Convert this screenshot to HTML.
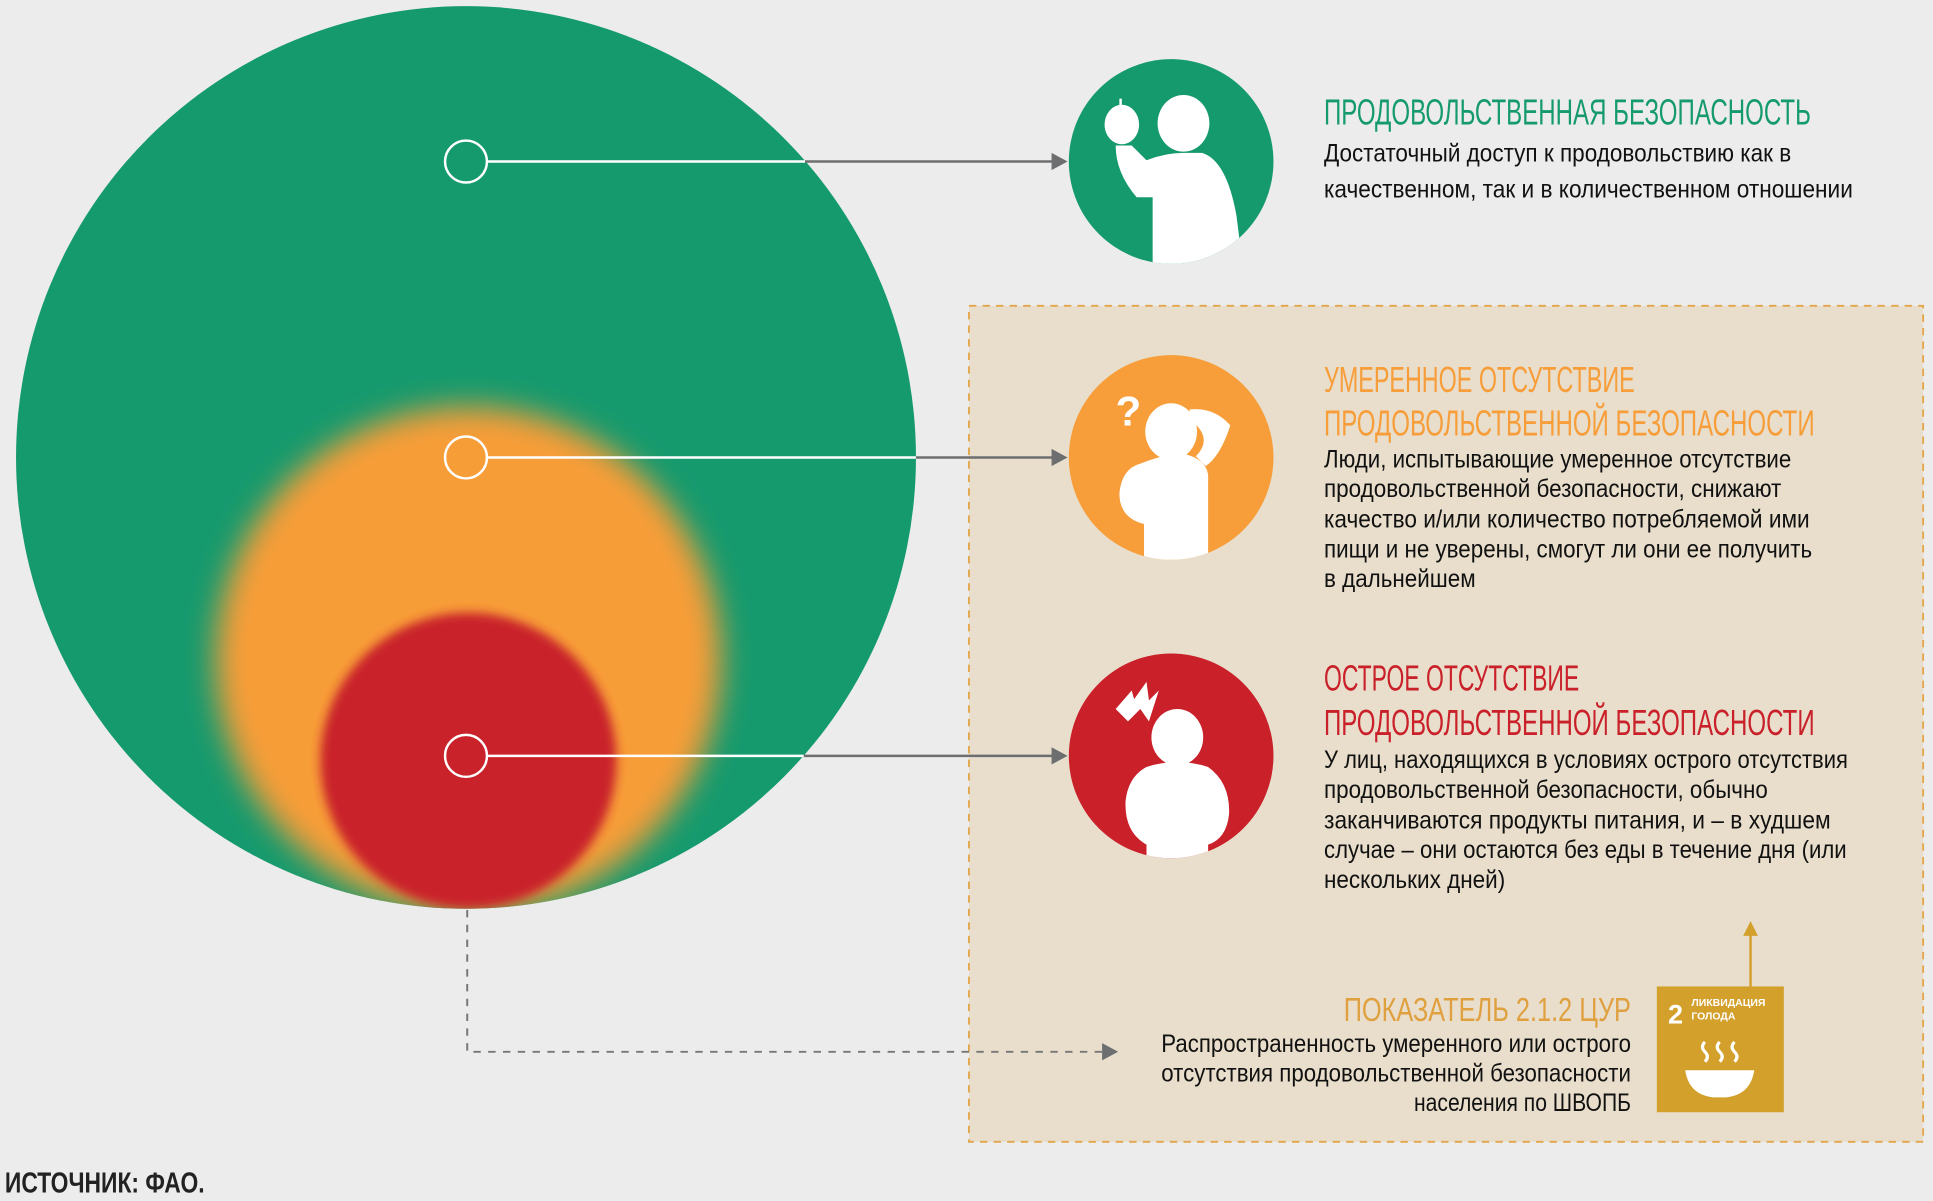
<!DOCTYPE html>
<html><head><meta charset="utf-8"><style>
html,body{margin:0;padding:0;background:#ececec;}
svg{display:block}
text{font-family:"Liberation Sans Narrow","Liberation Sans","DejaVu Sans Condensed",sans-serif;}
</style></head><body>
<svg width="1933" height="1201" viewBox="0 0 1568 974" preserveAspectRatio="none" xmlns="http://www.w3.org/2000/svg">
<defs>
<clipPath id="cg"><ellipse cx="378" cy="371" rx="365" ry="366"/></clipPath>
<filter id="b1" x="-30%" y="-30%" width="160%" height="160%"><feGaussianBlur stdDeviation="12"/></filter>
<filter id="b2" x="-30%" y="-30%" width="160%" height="160%"><feGaussianBlur stdDeviation="4"/></filter>
<clipPath id="ci1"><circle cx="950" cy="131" r="83"/></clipPath>
<clipPath id="ci2"><circle cx="950" cy="371" r="83"/></clipPath>
<clipPath id="ci3"><circle cx="950" cy="613" r="83"/></clipPath>
</defs>
<rect width="1568" height="974" fill="#ececec"/>
<!-- beige box -->
<rect x="786" y="248" width="774" height="678" fill="#e8decb" stroke="#e3a54a" stroke-width="1.5" stroke-dasharray="6,5"/>
<!-- big circles -->
<ellipse cx="378" cy="371" rx="365" ry="366" fill="#159a6e"/>
<g clip-path="url(#cg)">
<circle cx="380" cy="535" r="205" fill="#f79d39" filter="url(#b1)"/>
<circle cx="380" cy="617" r="120" fill="#c9202a" filter="url(#b2)"/>
</g>
<!-- connectors -->
<g stroke-width="2" fill="none">
<line x1="395" y1="131" x2="653" y2="131" stroke="#fff"/>
<line x1="653" y1="131" x2="856" y2="131" stroke="#6d6e70"/>
<line x1="395" y1="371" x2="743" y2="371" stroke="#fff"/>
<line x1="743" y1="371" x2="856" y2="371" stroke="#6d6e70"/>
<line x1="395" y1="613" x2="652" y2="613" stroke="#fff"/>
<line x1="652" y1="613" x2="856" y2="613" stroke="#6d6e70"/>
<circle cx="378" cy="131" r="17" stroke="#fff"/>
<circle cx="378" cy="371" r="17" stroke="#fff"/>
<circle cx="378" cy="613" r="17" stroke="#fff"/>
<path d="M379 738 V853 H897" stroke="#777" stroke-width="1.6" stroke-dasharray="6,6"/>
</g>
<g fill="#6d6e70">
<polygon points="853,124 866,131 853,138"/>
<polygon points="853,364 866,371 853,378"/>
<polygon points="853,606 866,613 853,620"/>
<polygon points="894,846 907,853 894,860"/>
</g>
<!-- icon circles -->
<circle cx="950" cy="131" r="83" fill="#159a6e"/>
<g clip-path="url(#ci1)" fill="#fff">
<ellipse cx="960" cy="100" rx="21" ry="23"/>
<path d="M930 130 Q945 124 960 124 L975 124 Q995 130 1003 175 L1008 215 L935 215 L935 160 L922 160 Q905 140 905 118 L918 118 Z"/>
<ellipse cx="910" cy="101" rx="14" ry="16"/>
<rect x="908" y="80" width="2" height="8"/>
</g>
<circle cx="950" cy="371" r="83" fill="#f79d39"/>
<g clip-path="url(#ci2)" fill="#fff">
<ellipse cx="950" cy="350" rx="21" ry="23"/>
<path d="M925 376 Q945 368 960 368 Q978 372 980 385 L980 455 L928 455 L928 425 Q908 420 908 400 Q910 380 925 376 Z"/>
<path d="M965 332 Q985 330 998 345 Q990 370 978 378 L970 370 Q985 355 965 340 Z"/>
<text x="905" y="345" font-size="34" fill="#fff" font-weight="bold">?</text>
</g>
<circle cx="950" cy="613" r="83" fill="#c9202a"/>
<g clip-path="url(#ci3)" fill="#fff">
<ellipse cx="955" cy="598" rx="21" ry="23"/>
<path d="M930 622 Q955 614 980 622 Q998 635 997 660 Q995 680 980 685 L980 700 L930 700 L930 685 Q912 675 913 650 Q915 630 930 622 Z"/>
<polygon points="905,575 918,560 920,567 930,553 932,568 940,560 932,585 925,575 915,585"/>
</g>
<!-- texts -->
<text x="1074" y="101" font-size="29" fill="#159a6e" textLength="395" lengthAdjust="spacingAndGlyphs">ПРОДОВОЛЬСТВЕННАЯ БЕЗОПАСНОСТЬ</text>
<g font-size="20.5" fill="#111">
<text x="1074" y="131" textLength="379" lengthAdjust="spacingAndGlyphs">Достаточный доступ к продовольствию как в</text>
<text x="1074" y="160" textLength="429" lengthAdjust="spacingAndGlyphs">качественном, так и в количественном отношении</text>
</g>
<text x="1074" y="318" font-size="29" fill="#f79d39" textLength="252" lengthAdjust="spacingAndGlyphs">УМЕРЕННОЕ ОТСУТСТВИЕ</text>
<text x="1074" y="353" font-size="29" fill="#f79d39" textLength="398" lengthAdjust="spacingAndGlyphs">ПРОДОВОЛЬСТВЕННОЙ БЕЗОПАСНОСТИ</text>
<g font-size="20.5" fill="#111">
<text x="1074" y="379" textLength="379" lengthAdjust="spacingAndGlyphs">Люди, испытывающие умеренное отсутствие</text>
<text x="1074" y="403" textLength="371" lengthAdjust="spacingAndGlyphs">продовольственной безопасности, снижают</text>
<text x="1074" y="428" textLength="394" lengthAdjust="spacingAndGlyphs">качество и/или количество потребляемой ими</text>
<text x="1074" y="452" textLength="396" lengthAdjust="spacingAndGlyphs">пищи и не уверены, смогут ли они ее получить</text>
<text x="1074" y="476" textLength="123" lengthAdjust="spacingAndGlyphs">в дальнейшем</text>
</g>
<text x="1074" y="560" font-size="29" fill="#c9202a" textLength="207" lengthAdjust="spacingAndGlyphs">ОСТРОЕ ОТСУТСТВИЕ</text>
<text x="1074" y="596" font-size="29" fill="#c9202a" textLength="398" lengthAdjust="spacingAndGlyphs">ПРОДОВОЛЬСТВЕННОЙ БЕЗОПАСНОСТИ</text>
<g font-size="20.5" fill="#111">
<text x="1074" y="623" textLength="425" lengthAdjust="spacingAndGlyphs">У лиц, находящихся в условиях острого отсутствия</text>
<text x="1074" y="647" textLength="360" lengthAdjust="spacingAndGlyphs">продовольственной безопасности, обычно</text>
<text x="1074" y="672" textLength="411" lengthAdjust="spacingAndGlyphs">заканчиваются продукты питания, и – в худшем</text>
<text x="1074" y="696" textLength="424" lengthAdjust="spacingAndGlyphs">случае – они остаются без еды в течение дня (или</text>
<text x="1074" y="720" textLength="147" lengthAdjust="spacingAndGlyphs">нескольких дней)</text>
</g>
<text x="1090" y="828" font-size="27" fill="#e0a040" textLength="233" lengthAdjust="spacingAndGlyphs">ПОКАЗАТЕЛЬ 2.1.2 ЦУР</text>
<g font-size="20.5" fill="#111">
<text x="942" y="853" textLength="381" lengthAdjust="spacingAndGlyphs">Распространенность умеренного или острого</text>
<text x="942" y="877" textLength="381" lengthAdjust="spacingAndGlyphs">отсутствия продовольственной безопасности</text>
<text x="1147" y="901" textLength="176" lengthAdjust="spacingAndGlyphs">населения по ШВОПБ</text>
</g>
<!-- SDG icon -->
<line x1="1420" y1="800" x2="1420" y2="756" stroke="#d3a02c" stroke-width="2"/>
<polygon points="1414,759 1420,747 1426,759" fill="#d3a02c"/>
<rect x="1344" y="800" width="103" height="102" fill="#d3a02c"/>
<text x="1353" y="830" font-size="22" font-weight="bold" fill="#fff">2</text>
<text x="1372" y="816" font-size="8.5" font-weight="bold" fill="#fff">ЛИКВИДАЦИЯ</text>
<text x="1372" y="827" font-size="8.5" font-weight="bold" fill="#fff">ГОЛОДА</text>
<path d="M1367 868 H1423 Q1420 888 1400 890 H1390 Q1370 888 1367 868 Z" fill="#fff"/>
<g stroke="#fff" stroke-width="2.5" fill="none">
<path d="M1383 845 q-4 4 0 8 q4 4 0 8"/>
<path d="M1395 845 q-4 4 0 8 q4 4 0 8"/>
<path d="M1407 845 q-4 4 0 8 q4 4 0 8"/>
</g>
<text x="4" y="967" font-size="23" font-weight="bold" fill="#222" textLength="162" lengthAdjust="spacingAndGlyphs">ИСТОЧНИК: ФАО.</text>
</svg>
</body></html>
